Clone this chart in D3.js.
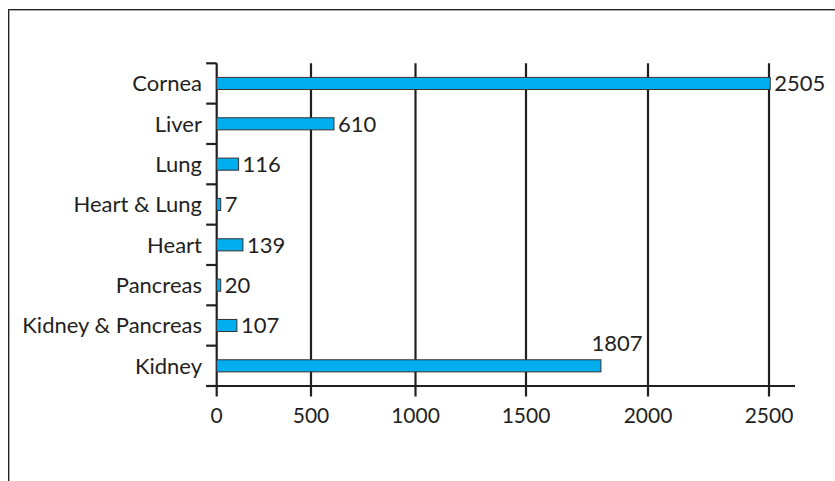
<!DOCTYPE html>
<html>
<head>
<meta charset="utf-8">
<script src="https://cdn.jsdelivr.net/npm/d3@7"></script>
<style>
  html, body { margin: 0; padding: 0; background: #fff; }
  svg { display: block; }
  text { font-family: Lato, "Open Sans", sans-serif; fill: #231f20; }
</style>
</head>
<body>
<svg id="chart" width="835" height="481"></svg>
<script>
// Organ transplants by type
const categories = ["Cornea", "Liver", "Lung", "Heart & Lung", "Heart", "Pancreas", "Kidney & Pancreas", "Kidney"];
const values = [2505, 610, 116, 7, 139, 20, 107, 1807];
const tickValues = [0, 500, 1000, 1500, 2000, 2500];
const tickLabels = ["0", "500", "1000", "1500", "2000", "2500"];

const svg = d3.select("#chart");

// Plot geometry
const plotTop = 63.3, plotBottom = 386, axisLeft = 216.7, axisRight = 795;
const tickLen = 10.5;

// The value axis is drawn with uneven spacing between its gridlines
const x = d3.scaleLinear()
  .domain(tickValues)
  .range([axisLeft, 311, 415.5, 526, 648, 769]);

const y = d3.scaleBand()
  .domain(categories)
  .range([plotTop, plotBottom])
  .paddingInner(0.7)
  .paddingOuter(0.35);

// Outer frame (top and left edges)
svg.append("line").attr("x1", 8).attr("x2", 835).attr("y1", 10.5).attr("y2", 10.5)
  .attr("stroke", "#aaa").attr("stroke-width", 1);
svg.append("line").attr("x1", 8).attr("x2", 835).attr("y1", 9.5).attr("y2", 9.5)
  .attr("stroke", "#222").attr("stroke-width", 1);
svg.append("line").attr("x1", 8.5).attr("x2", 8.5).attr("y1", 9).attr("y2", 481)
  .attr("stroke", "#222").attr("stroke-width", 1);
svg.append("line").attr("x1", 9.5).attr("x2", 9.5).attr("y1", 11).attr("y2", 481)
  .attr("stroke", "#aaa").attr("stroke-width", 1);

// Vertical gridlines, extending below the axis as ticks
svg.append("g")
  .selectAll("line")
  .data(tickValues)
  .join("line")
  .attr("x1", d => x(d)).attr("x2", d => x(d))
  .attr("y1", plotTop).attr("y2", plotBottom + tickLen)
  .attr("stroke", "#231f20").attr("stroke-width", 2.2);

// Category axis ticks at band boundaries
const boundaries = d3.range(categories.length + 1).map(i => plotTop + i * (plotBottom - plotTop) / categories.length);
svg.append("g")
  .selectAll("line")
  .data(boundaries)
  .join("line")
  .attr("x1", axisLeft - tickLen).attr("x2", axisLeft)
  .attr("y1", d => d).attr("y2", d => d)
  .attr("stroke", "#231f20").attr("stroke-width", 2.2);

// X axis line
svg.append("line")
  .attr("x1", axisLeft - tickLen).attr("x2", axisRight)
  .attr("y1", plotBottom).attr("y2", plotBottom)
  .attr("stroke", "#231f20").attr("stroke-width", 2.2);

// Tick labels
svg.append("g")
  .selectAll("text")
  .data(tickValues)
  .join("text")
  .attr("x", d => x(d))
  .attr("y", 423)
  .attr("text-anchor", "middle")
  .attr("font-size", 21)
  .text((d, i) => tickLabels[i]);

// Category labels
svg.append("g")
  .selectAll("text")
  .data(categories)
  .join("text")
  .attr("x", 202)
  .attr("y", d => y(d) + y.bandwidth() / 2)
  .attr("dy", "0.36em")
  .attr("text-anchor", "end")
  .attr("font-size", 22)
  .text(d => d);

// Bars
svg.append("g")
  .selectAll("rect")
  .data(categories)
  .join("rect")
  .attr("x", x(0))
  .attr("y", d => y(d))
  .attr("width", (d, i) => Math.max(4, x(values[i]) - x(0)))
  .attr("height", y.bandwidth())
  .attr("fill", "#00aeef")
  .attr("stroke", "#333")
  .attr("stroke-width", 1);

// Value labels (the last one sits above its bar)
const last = categories.length - 1;
svg.append("g")
  .selectAll("text")
  .data(categories)
  .join("text")
  .attr("x", (d, i) => i === last ? x(values[i]) + 16 : Math.max(x(0) + 4, x(values[i])) + 4)
  .attr("y", (d, i) => i === last ? y(d) - 9 : y(d) + y.bandwidth() / 2)
  .attr("dy", (d, i) => i === last ? 0 : "0.36em")
  .attr("text-anchor", (d, i) => i === last ? "middle" : "start")
  .attr("font-size", 22)
  .text((d, i) => values[i]);
</script>
</body>
</html>
